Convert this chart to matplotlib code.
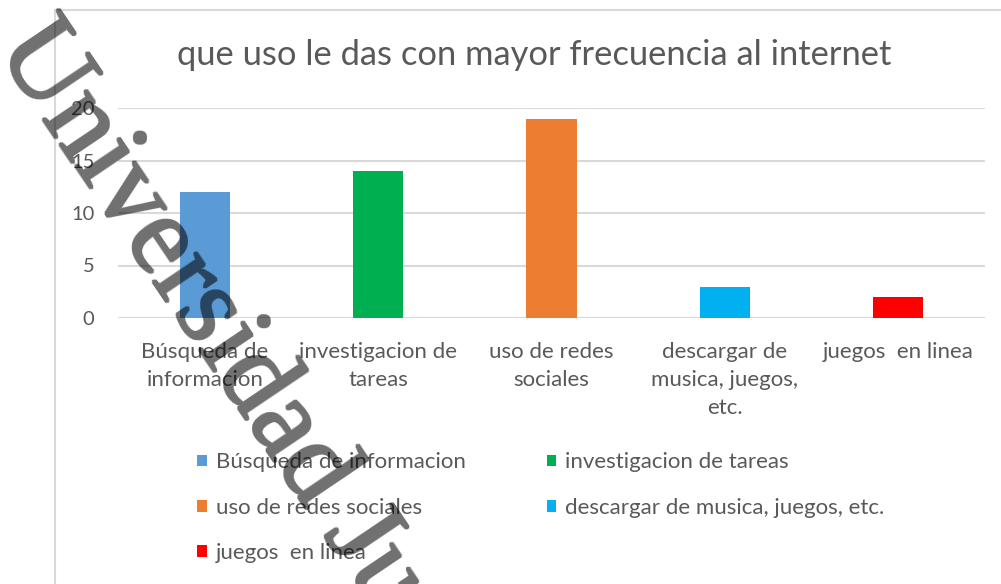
import matplotlib
matplotlib.use("Agg")
import numpy as np
import matplotlib.pyplot as plt
from matplotlib.patches import Patch
from matplotlib.lines import Line2D

categories = ["Búsqueda de\ninformacion", "investigacion de\ntareas", "uso de redes\nsociales",
              "descargar de\nmusica, juegos,\netc.", "juegos  en linea"]
legend_labels = ["Búsqueda de informacion", "investigacion de tareas", "uso de redes sociales",
                 "descargar de musica, juegos, etc.", "juegos  en linea"]
values = [12, 14, 19, 3, 2]
colors = ["#5b9bd5", "#00b050", "#ed7d31", "#00b0f0", "#ff0000"]
yticks = [0, 5, 10, 15, 20]
title = "que uso le das con mayor frecuencia al internet"
watermark = "Universidad Ju"

FONT = "Lato"
TXT = "#595959"
GRID = "#d9d9d9"

fig = plt.figure(figsize=(10.01, 5.84), dpi=100)
W, H = 1001, 584

# chart area border (top and left)
fig.add_artist(Line2D([55 / W, 55 / W], [0, 1 - 10 / H], color=GRID, lw=1.5, transform=fig.transFigure))
fig.add_artist(Line2D([55 / W, 1], [1 - 10 / H, 1 - 10 / H], color=GRID, lw=1.5, transform=fig.transFigure))

left, right = 118 / W, 985 / W
bottom, top = 1 - 318 / H, 1 - 108 / H
ax = fig.add_axes([left, bottom, right - left, top - bottom])
x = list(range(len(values)))
ax.bar(x, values, width=0.29, color=colors, zorder=3)
ax.set_xlim(-0.5, len(values) - 0.5)
ax.set_ylim(0, 20)
ax.set_yticks(yticks)
ax.set_yticklabels([str(t) for t in yticks], fontsize=14.5, color=TXT, family=FONT)
ax.yaxis.grid(True, color=GRID, lw=1.5, zorder=0)
ax.set_xticks(x)
ax.set_xticklabels(categories, fontsize=16, color=TXT, family=FONT, linespacing=1.5)
ax.tick_params(axis="both", length=0)
ax.tick_params(axis="y", pad=17)
ax.tick_params(axis="x", pad=17)
for s in ax.spines.values():
    s.set_visible(False)
ax.axhline(0, color=GRID, lw=1.5, zorder=2)

fig.text(534 / W, 1 - 55 / H, title, ha="center", va="center", fontsize=24.8, color=TXT, family=FONT)

order = [0, 2, 4, 1, 3]
handles = [Patch(facecolor=colors[i], edgecolor="none") for i in order]
labels = [legend_labels[i] for i in order]
fig.legend(handles, labels, ncol=2, loc="upper left", bbox_to_anchor=(193 / W, 1 - 448 / H),
           frameon=False, handlelength=0.42, handleheight=0.42, handletextpad=0.4,
           columnspacing=3.65, labelspacing=1.14, borderpad=0.2, borderaxespad=0,
           prop={"family": FONT, "size": 16}, labelcolor=TXT)


def thicken(img, dpi):
    a = img[..., 3]
    p = np.pad(a, 1)
    d = np.zeros_like(a)
    h, w = a.shape
    for dy in range(3):
        for dx in range(3):
            d = np.maximum(d, p[dy:dy + h, dx:dx + w])
    out = np.zeros_like(img)
    out[..., 3] = d * 0.56
    return out, 0, 0


wm = fig.text(18 / W, 1 - 33 / H, watermark, rotation=-56, rotation_mode="anchor",
              ha="left", va="center", fontsize=82, family="Liberation Serif",
              color="black", zorder=10)
wm.set_agg_filter(thicken)

fig.savefig("out.png", dpi=100)
